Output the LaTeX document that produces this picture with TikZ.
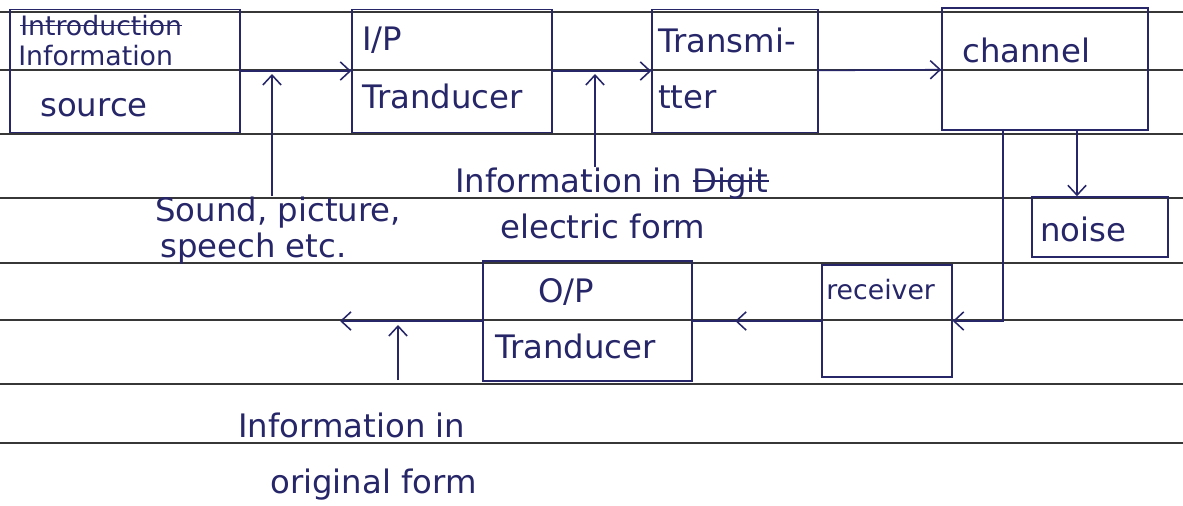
\documentclass[tikz,border=0pt]{standalone}
\usepackage{fontspec}
\setmainfont{DejaVu Sans}
\usepackage{tikz}
\usetikzlibrary{arrows.meta,decorations.markings}
\definecolor{inkblue}{RGB}{38, 38, 105}
\definecolor{ruleline}{RGB}{55, 55, 55}
\newcommand{\hand}{\fontsize{23}{27}\selectfont}
\newcommand{\handsm}{\fontsize{19}{22}\selectfont}
% crossed-out word
\newcommand{\strk}[1]{\setbox0\hbox{#1}\rlap{\raisebox{0.32em}{\rule{\wd0}{1.1pt}}}\box0}

\begin{document}
\begin{tikzpicture}[x=0.025cm, y=-0.025cm,
    blk/.style={draw=inkblue, line width=1.1pt, inner sep=0pt},
    txt/.style={text=inkblue, font=\hand, inner sep=0pt, anchor=base west},
    wire/.style={draw=inkblue, line width=1.1pt},
    arr/.style={wire, -{Straight Barb[length=7pt, width=13pt]}}]

\useasboundingbox (0,0) rectangle (1183,506);
\fill[white] (0,0) rectangle (1183,506);

%% ── ruled paper ──────────────────────────────────────────────────────────────
\foreach \ry in {12,70,134,198,263,320,384,443}
  \draw[ruleline, line width=0.8pt] (0,\ry) -- (1183,\ry);

%% ── TOP ROW: source -> I/P -> transmitter -> channel ─────────────────────────
\node[blk, minimum width=5.75cm, minimum height=3.075cm] (src) at (125,71) {};
\node[txt, font=\handsm] at (20,35) {\strk{Introduction}};
\node[txt, font=\handsm] at (18,65) {Information};
\node[txt] at (40,116) {source};

\node[blk, minimum width=5cm, minimum height=3.075cm] (ip) at (452,71) {};
\node[txt] at (362,50) {I/P};
\node[txt] at (362,108) {Tranducer};

\node[blk, minimum width=4.15cm, minimum height=3.075cm] (tx) at (735,71) {};
\node[txt] at (658,52) {Transmi-};
\node[txt] at (658,108) {tter};

\node[blk, minimum width=5.15cm, minimum height=3.05cm] (ch) at (1045,69) {};
\node[txt] at (962,62) {channel};

\draw[arr] (src) -- (ip);
\draw[arr] (ip) -- (tx);
\draw[arr] (tx) -- (ch);

% input labels under the top row
\node[txt] (snda) at (155,221) {Sound, picture,};
\node[txt] (sndb) at (160,257) {speech etc.};
\coordinate (sndhd) at (272,74);
\draw[arr] (snda.north -| sndhd) -- (sndhd);

\node[txt] (ela) at (455,192) {Information in \strk{Digit}};
\node[txt] (elb) at (500,238) {electric form};
\coordinate (elhd) at (595,74);
\draw[arr] (ela.north -| elhd) -- (elhd);

%% ── noise ────────────────────────────────────────────────────────────────────
\node[blk, minimum width=3.4cm, minimum height=1.5cm] (noise) at (1100,227) {};
\node[txt] at (1040,241) {noise};
\coordinate (nz) at (1077,0);
\draw[arr] (ch.south -| nz) -- (noise.north -| nz);

%% ── BOTTOM ROW: receiver -> O/P ──────────────────────────────────────────────
\node[blk, minimum width=3.25cm, minimum height=2.8cm] (rx) at (887,321) {};
\node[txt, font=\handsm] at (826,299) {receiver};

\node[blk, minimum width=5.225cm, minimum height=3cm] (op) at (587.5,321) {};
\node[txt] at (538,302) {O/P};
\node[txt] at (495,358) {Tranducer};

\coordinate (chrx) at (1003,0);
\draw[arr] (ch.south -| chrx) |- (rx.east);

\draw[wire, postaction={decorate}, decoration={markings,
    mark=at position 0.67 with {\arrow{Straight Barb[length=7pt, width=13pt]}}}]
  (rx.west) -- (op.east);

\coordinate (outp) at (340,321);
\draw[arr] (op.west) -- (outp);

% output label
\node[txt] (ora) at (238,437) {Information in};
\node[txt] (orb) at (270,493) {original form};
\coordinate (ortl) at (398,380);
\coordinate (orhd) at (398,325);
\draw[arr] (ortl) -- (orhd);

\end{tikzpicture}
\end{document}
